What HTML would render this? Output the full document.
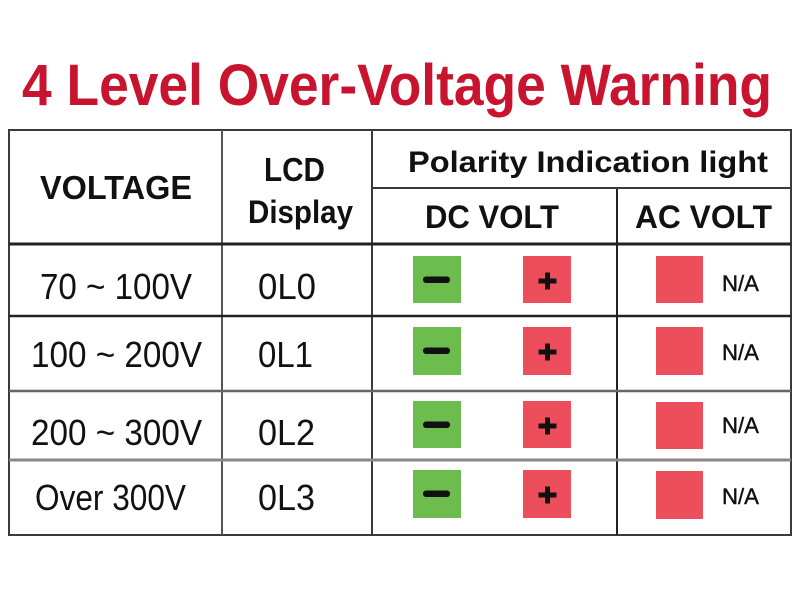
<!DOCTYPE html>
<html>
<head>
<meta charset="utf-8">
<style>
html,body{margin:0;padding:0;background:#fff;}
svg{display:block;}
</style>
</head>
<body>
<svg width="800" height="600" viewBox="0 0 800 600" xmlns="http://www.w3.org/2000/svg">
<rect x="0" y="0" width="800" height="600" fill="#ffffff"/>
<!-- Title -->
<text x="22" y="105" font-family="Liberation Sans, sans-serif" font-weight="bold" font-size="58" fill="#c8142e" textLength="750" lengthAdjust="spacingAndGlyphs">4 Level Over-Voltage Warning</text>

<!-- Table lines -->
<g stroke="#3a3a3a" stroke-width="2" fill="none">
  <rect x="9" y="130" width="782" height="405"/>
  <line x1="222" y1="130" x2="222" y2="535" stroke="#555"/>
  <line x1="372" y1="130" x2="372" y2="535"/>
  <line x1="617" y1="188" x2="617" y2="535" stroke="#222"/>
  <line x1="372" y1="188" x2="791" y2="188"/>
  <line x1="9" y1="244" x2="791" y2="244" stroke="#222" stroke-width="3"/>
  <line x1="9" y1="316" x2="791" y2="316" stroke="#222" stroke-width="2.5"/>
  <line x1="9" y1="391" x2="791" y2="391" stroke="#666" stroke-width="2.5"/>
  <line x1="9" y1="460" x2="791" y2="460" stroke="#888" stroke-width="3"/>
</g>

<!-- Header text -->
<g font-family="Liberation Sans, sans-serif" font-weight="bold" fill="#111">
  <text x="40" y="199" font-size="33" textLength="152" lengthAdjust="spacingAndGlyphs">VOLTAGE</text>
  <text x="264" y="181" font-size="33" textLength="61" lengthAdjust="spacingAndGlyphs">LCD</text>
  <text x="248" y="223" font-size="32" textLength="105" lengthAdjust="spacingAndGlyphs">Display</text>
  <text x="408" y="172" font-size="30" textLength="360" lengthAdjust="spacingAndGlyphs">Polarity Indication light</text>
  <text x="425" y="228" font-size="32" textLength="134" lengthAdjust="spacingAndGlyphs">DC VOLT</text>
  <text x="635" y="228" font-size="32" textLength="137" lengthAdjust="spacingAndGlyphs">AC VOLT</text>
</g>

<!-- Body text -->
<g font-family="Liberation Sans, sans-serif" fill="#111" font-size="36">
  <text x="40" y="299" textLength="152" lengthAdjust="spacingAndGlyphs">70 ~ 100V</text>
  <text x="258" y="299" textLength="58" lengthAdjust="spacingAndGlyphs">0L0</text>
  <text x="31" y="367" textLength="171" lengthAdjust="spacingAndGlyphs">100 ~ 200V</text>
  <text x="258" y="367" textLength="55" lengthAdjust="spacingAndGlyphs">0L1</text>
  <text x="31" y="445" textLength="171" lengthAdjust="spacingAndGlyphs">200 ~ 300V</text>
  <text x="258" y="445" textLength="57" lengthAdjust="spacingAndGlyphs">0L2</text>
  <text x="35" y="510" textLength="151" lengthAdjust="spacingAndGlyphs">Over 300V</text>
  <text x="258" y="510" textLength="57" lengthAdjust="spacingAndGlyphs">0L3</text>
</g>

<!-- N/A -->
<g font-family="Liberation Sans, sans-serif" fill="#111" stroke="#111" stroke-width="0.4" font-size="22">
  <text x="722" y="291" textLength="37" lengthAdjust="spacingAndGlyphs">N/A</text>
  <text x="722" y="360" textLength="37" lengthAdjust="spacingAndGlyphs">N/A</text>
  <text x="722" y="433" textLength="37" lengthAdjust="spacingAndGlyphs">N/A</text>
  <text x="722" y="504" textLength="37" lengthAdjust="spacingAndGlyphs">N/A</text>
</g>

<!-- Squares -->
<g>
  <!-- Row 1 -->
  <rect x="413" y="256" width="48" height="47" fill="#6cbd4e"/>
  <rect x="423" y="276.5" width="27" height="6.5" rx="3" fill="#111"/>
  <rect x="523" y="256" width="48" height="47" fill="#ec4f5b"/>
  <rect x="538.5" y="278.5" width="18" height="5" fill="#111"/>
  <rect x="545" y="272.5" width="5" height="17" fill="#111"/>
  <rect x="656" y="256" width="47" height="47" fill="#ec4f5b"/>
  <!-- Row 2 -->
  <rect x="413" y="327" width="48" height="48" fill="#6cbd4e"/>
  <rect x="423" y="347.5" width="27" height="6.5" rx="3" fill="#111"/>
  <rect x="523" y="327" width="48" height="48" fill="#ec4f5b"/>
  <rect x="538.5" y="349.5" width="18" height="5" fill="#111"/>
  <rect x="545" y="343.5" width="5" height="17" fill="#111"/>
  <rect x="656" y="327" width="47" height="48" fill="#ec4f5b"/>
  <!-- Row 3 -->
  <rect x="413" y="401" width="48" height="47" fill="#6cbd4e"/>
  <rect x="423" y="421.5" width="27" height="6.5" rx="3" fill="#111"/>
  <rect x="523" y="401" width="48" height="47" fill="#ec4f5b"/>
  <rect x="538.5" y="423.5" width="18" height="5" fill="#111"/>
  <rect x="545" y="417.5" width="5" height="17" fill="#111"/>
  <rect x="656" y="402" width="47" height="47" fill="#ec4f5b"/>
  <!-- Row 4 -->
  <rect x="413" y="470" width="48" height="48" fill="#6cbd4e"/>
  <rect x="423" y="490.5" width="27" height="6.5" rx="3" fill="#111"/>
  <rect x="523" y="470" width="48" height="48" fill="#ec4f5b"/>
  <rect x="538.5" y="492.5" width="18" height="5" fill="#111"/>
  <rect x="545" y="486.5" width="5" height="17" fill="#111"/>
  <rect x="656" y="471" width="47" height="48" fill="#ec4f5b"/>
</g>
</svg>
</body>
</html>
